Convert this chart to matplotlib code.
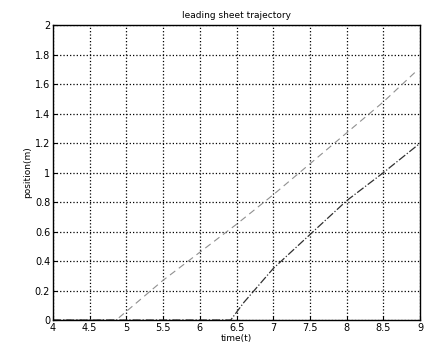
import numpy as np
import matplotlib.pyplot as plt

# first sheet (light, dashed) and second sheet (dark, dash-dot)
t1 = [4.0, 4.86, 5.5, 6.0, 6.5, 7.0, 7.5, 8.0, 8.5, 8.93]
p1 = [0.0, 0.0, 0.27, 0.46, 0.65, 0.85, 1.06, 1.27, 1.48, 1.68]

t2 = [4.0, 6.42, 6.6, 7.0, 7.5, 8.0, 8.5, 9.0]
p2 = [0.0, 0.0, 0.12, 0.35, 0.58, 0.81, 1.0, 1.2]

xticks = np.arange(4, 9.01, 0.5)
yticks = np.arange(0, 2.01, 0.2)

fig = plt.figure(figsize=(4.24, 3.49), dpi=100)
ax = fig.add_axes([0.125, 0.083, 0.866, 0.845])

ax.plot(t1, p1, color='#909090', linestyle=(0, (6, 4)), linewidth=0.8)
ax.plot(t2, p2, color='#303030', linestyle='-.', linewidth=0.9)

ax.set_xlim(4, 9)
ax.set_ylim(0, 2)
ax.set_xticks(xticks)
ax.set_yticks(yticks)
ax.set_xticklabels(['4', '4.5', '5', '5.5', '6', '6.5', '7', '7.5', '8', '8.5', '9'])
ax.set_yticklabels(['0', '0.2', '0.4', '0.6', '0.8', '1', '1.2', '1.4', '1.6', '1.8', '2'])
ax.tick_params(direction='in', labelsize=7, length=3, pad=2)
ax.grid(True, color='black', linestyle=':', linewidth=0.9)
for s in ax.spines.values():
    s.set_linewidth(1.0)

ax.set_xlabel('time(t)', fontsize=6.5, labelpad=1)
ax.set_ylabel('position(m)', fontsize=6.5, labelpad=2)
ax.set_title('leading sheet trajectory', fontsize=6.5, pad=5)

plt.savefig('out.png', dpi=100)
